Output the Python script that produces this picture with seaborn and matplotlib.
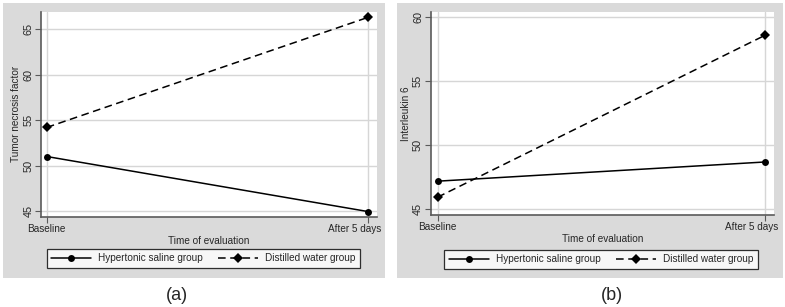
import matplotlib
matplotlib.use("Agg")
import matplotlib.pyplot as plt
import matplotlib.transforms as mtransforms
import seaborn as sns
import pandas as pd
from matplotlib.patches import Rectangle

sns.set_theme(style="white")
plt.rcParams['font.family'] = ['Liberation Sans', 'DejaVu Sans']

time_labels = ["Baseline", "After 5 days"]
groups = ["Hypertonic saline group", "Distilled water group"]
tnf_hypertonic = [51.0, 44.95]
tnf_distilled = [54.2, 66.3]
il6_hypertonic = [47.2, 48.7]
il6_distilled = [45.95, 58.6]
tnf_ticks = [45, 50, 55, 60, 65]
il6_ticks = [45, 50, 55, 60]


def make_df(h, d):
    rows = []
    for i, t in enumerate(time_labels):
        rows.append({"t": i, "value": h[i], "group": groups[0]})
        rows.append({"t": i, "value": d[i], "group": groups[1]})
    return pd.DataFrame(rows)


W, H = 785, 307
fig = plt.figure(figsize=(W / 100, H / 100), dpi=100)
fig.patch.set_facecolor("white")

bg = "#dadada"
fig.patches.append(Rectangle((3 / W, 1 - 278 / H), 382 / W, 275 / H,
                             transform=fig.transFigure, facecolor=bg, edgecolor="none", zorder=-10))
fig.patches.append(Rectangle((397 / W, 1 - 278 / H), 386 / W, 275 / H,
                             transform=fig.transFigure, facecolor=bg, edgecolor="none", zorder=-10))

FS = 7.2


def panel(rect, h, d, ticks, ylim, xlim, ylabel, letter, letter_x, legend_rect, vgrid, last_shift):
    l, r, t, b = rect
    ax = fig.add_axes([l / W, 1 - b / H, (r - l) / W, (b - t) / H])
    ax.set_facecolor("white")
    df = make_df(h, d)
    sns.lineplot(data=df, x="t", y="value", hue="group", style="group",
                 hue_order=groups, style_order=groups,
                 palette={groups[0]: "black", groups[1]: "black"},
                 dashes={groups[0]: "", groups[1]: (5, 3)},
                 markers={groups[0]: "o", groups[1]: "D"},
                 markersize=5, markeredgewidth=0, linewidth=1.1, ax=ax, legend=True)
    ax.set_ylim(*ylim)
    ax.set_xlim(*xlim)
    ax.set_yticks(ticks)
    ax.set_xticks([0, 1])
    ax.set_xticklabels(time_labels, fontsize=FS)
    ax.set_yticklabels([str(v) for v in ticks], fontsize=7.8, rotation=90, va="center")
    ax.yaxis.grid(True, color="#d6d6d6", linewidth=1)
    ax.xaxis.grid(vgrid, color="#d6d6d6", linewidth=1)
    ax.set_axisbelow(True)
    for s in ["top", "right"]:
        ax.spines[s].set_visible(False)
    for s in ["left", "bottom"]:
        ax.spines[s].set_color("#5a5a5a")
        ax.spines[s].set_linewidth(1.2)
    ax.tick_params(axis="both", which="both", length=4, width=0.8, color="#5a5a5a",
                   direction="out", pad=1.5, bottom=True, left=True)
    ax.set_xlabel("Time of evaluation", fontsize=FS, labelpad=1.5)
    ax.set_ylabel(ylabel, fontsize=FS, labelpad=1.5)
    lab = ax.get_xticklabels()[1]
    lab.set_horizontalalignment("right")
    lab.set_transform(lab.get_transform() +
                      mtransforms.ScaledTranslation(last_shift / 100, 0, fig.dpi_scale_trans))
    handles, labels = ax.get_legend_handles_labels()
    ax.legend_.remove()
    lx0, ly0, lx1, ly1 = legend_rect
    leg = ax.legend(handles, labels, ncol=2, fontsize=FS, frameon=True,
                    loc="center", bbox_to_anchor=((lx0 + lx1) / 2 / W, 1 - (ly0 + ly1) / 2 / H),
                    bbox_transform=fig.transFigure, fancybox=False, borderpad=0.45,
                    handlelength=4.0, columnspacing=1.5, handletextpad=0.7)
    leg.get_frame().set_edgecolor("black")
    leg.get_frame().set_linewidth(0.9)
    leg.get_frame().set_facecolor("white")
    fig.text(letter_x / W, 1 - 295 / H, letter, fontsize=13, ha="center", va="center")
    return ax


panel((41, 377, 12, 216.5), tnf_hypertonic, tnf_distilled, tnf_ticks,
      (44.4, 66.9), (-0.018, 1.029), "Tumor necrosis factor", "(a)", 177,
      (48, 248, 359, 268), False, 14)
panel((430.7, 774, 12, 214.5), il6_hypertonic, il6_distilled, il6_ticks,
      (44.6, 60.4), (-0.021, 1.026), "Interleukin 6", "(b)", 612,
      (450, 250, 752, 269), True, 12.5)

fig.savefig("out.png", dpi=100, facecolor="white")
